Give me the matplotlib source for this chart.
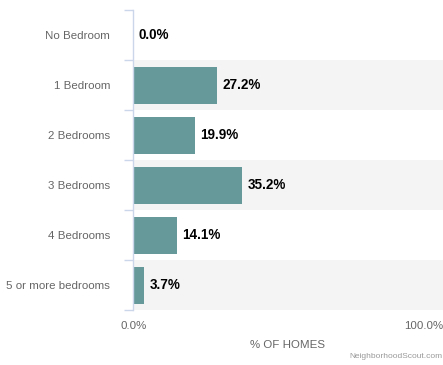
import matplotlib.pyplot as plt

plt.rcParams['font.family'] = ['Liberation Sans', 'DejaVu Sans']

categories = ['No Bedroom', '1 Bedroom', '2 Bedrooms', '3 Bedrooms', '4 Bedrooms', '5 or more bedrooms']
pct_homes = [0.0, 27.2, 19.9, 35.2, 14.1, 3.7]

W, H = 443, 365
fig = plt.figure(figsize=(W / 100, H / 100), dpi=100)
ax = fig.add_axes([133 / W, 55 / H, 310 / W, 300 / H])

n = len(categories)
ys = list(range(n))

# alternating row bands
for i in ys:
    if i % 2 == 1:
        ax.axhspan(i - 0.5, i + 0.5, color='#f4f4f4', zorder=0, lw=0)

ax.barh(ys, pct_homes, height=0.74, color='#669999', zorder=2)
for y, v in zip(ys, pct_homes):
    ax.annotate(f'{v:.1f}%', (v, y), xytext=(4, 0), textcoords='offset points',
                va='center', ha='left', fontsize=9.75, fontweight='bold', color='black')

ax.set_xlim(0, 100)
ax.set_ylim(n - 0.5, -0.5)
for s in ['top', 'right', 'bottom']:
    ax.spines[s].set_visible(False)
ax.spines['left'].set_color('#ccd6eb')
ax.spines['left'].set_linewidth(1)

ax.set_yticks([i - 0.5 for i in range(n + 1)], minor=False)
ax.set_yticklabels([])
ax.tick_params(axis='y', which='major', length=6.5, color='#ccd6eb', width=1)
ax.set_yticks(ys, minor=True)
ax.set_yticklabels(categories, minor=True)
ax.tick_params(axis='y', which='minor', length=0, pad=16.5, labelsize=8.25, labelcolor='#666666')

ax.set_xticks([])
fig.text(134 / W, 1 - 326 / H, '0.0%', ha='center', va='center', fontsize=8.25, color='#666666')
fig.text(443 / W, 1 - 326 / H, '100.0%', ha='right', va='center', fontsize=8.25, color='#666666')
fig.text(288 / W, 1 - 345 / H, '% OF HOMES', ha='center', va='center', fontsize=8.25, color='#666666')
fig.text(442 / W, 1 - 357 / H, 'NeighborhoodScout.com', ha='right', va='center', fontsize=6, color='#999999')

fig.savefig('out.png', dpi=100)
